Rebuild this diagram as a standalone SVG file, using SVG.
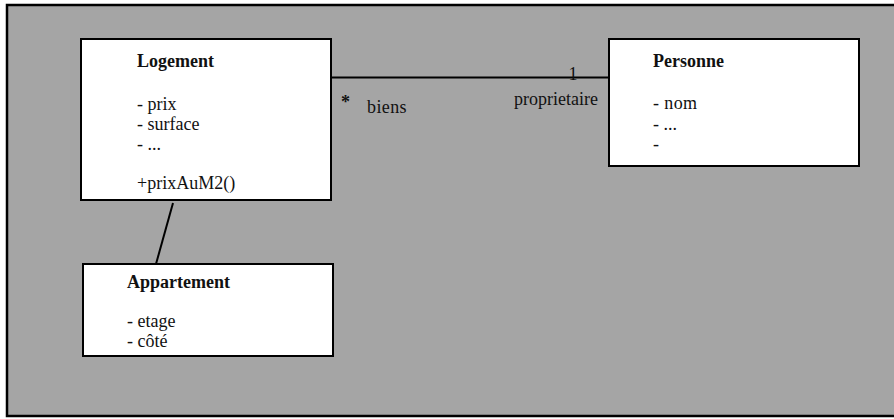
<svg xmlns="http://www.w3.org/2000/svg" width="894" height="419" viewBox="0 0 894 419">
<style>
.box{fill:#fff;stroke:#000;stroke-width:2}
.t{font-family:"Liberation Serif","Times New Roman",serif;font-size:18px;fill:#111}
.b{font-weight:bold}
.c{stroke:#000;stroke-width:2;fill:none}
</style>
<rect x="0" y="0" width="894" height="419" fill="#fff"/>
<rect x="7" y="5" width="900" height="411" fill="#a5a5a5" stroke="#000" stroke-width="2.5"/>
<g id="connectors">
<line class="c" x1="331" y1="77.5" x2="609" y2="77.5"/>
<line class="c" x1="173" y1="203" x2="156" y2="264"/>
<text class="t b" x="341" y="108">*</text>
<text class="t" x="367" y="113" letter-spacing="0.4">biens</text>
<text class="t" x="573" y="80" text-anchor="middle">1</text>
<text class="t" x="598" y="105" text-anchor="end">proprietaire</text>
</g>
<g id="logement">
<rect class="box" x="81" y="39" width="250" height="161"/>
<text class="t b" x="137" y="67">Logement</text>
<text class="t" x="137" y="110">- prix</text>
<text class="t" x="137" y="130">- surface</text>
<text class="t" x="137" y="150">- ...</text>
<text class="t" x="137" y="189">+prixAuM2()</text>
</g>
<g id="personne">
<rect class="box" x="609" y="39" width="250" height="127"/>
<text class="t b" x="653" y="67">Personne</text>
<text class="t" x="653" y="109" letter-spacing="0.4">- nom</text>
<text class="t" x="653" y="130">- ...</text>
<text class="t" x="653" y="150">-</text>
</g>
<g id="appartement">
<rect class="box" x="83" y="264" width="250" height="92"/>
<text class="t b" x="127" y="288">Appartement</text>
<text class="t" x="127" y="327">- etage</text>
<text class="t" x="127" y="347">- côté</text>
</g>
</svg>
